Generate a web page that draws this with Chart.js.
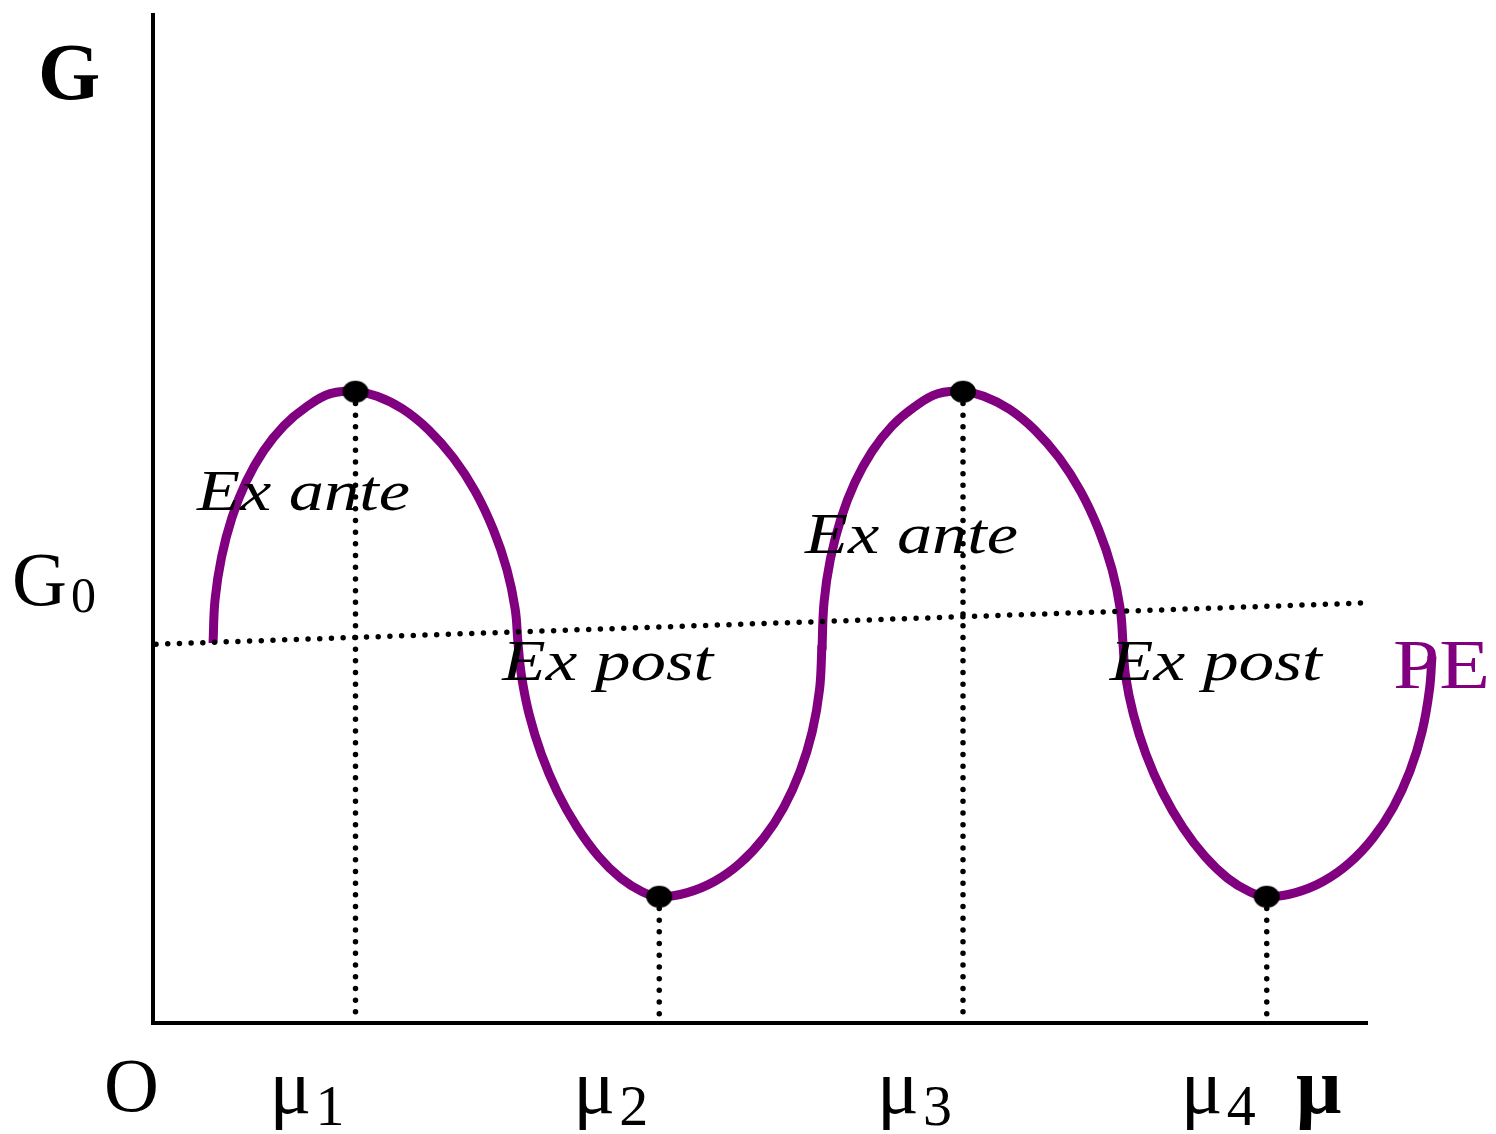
<!DOCTYPE html>
<html>
<head>
<meta charset="utf-8">
<script src="https://cdn.jsdelivr.net/npm/chart.js@4.4.1/dist/chart.umd.min.js"></script>
<style>
  html, body { margin: 0; padding: 0; background: #fff; }
  canvas { display: block; }
</style>
</head>
<body>
<canvas id="peChart" width="1496" height="1134"></canvas>
<script>
// PE curve: G against mu, with ex ante / ex post regions

// first stretch of the curve (up to the small break near mu ~ 6.6)
const curveX1 = [0.593, 0.613, 0.677, 0.780, 0.920, 1.093, 1.294, 1.515, 1.751, 2.0,
  2.213, 2.467, 2.723, 2.967, 3.182, 3.361, 3.495, 3.577, 3.605,
  3.640, 3.715, 3.836, 3.996, 4.189, 4.400, 4.621, 4.832, 5.0,
  5.278, 5.548, 5.802, 6.033, 6.231, 6.392, 6.511, 6.583, 6.607];
const curveY1 = [3.761, 4.193, 4.612, 5.005, 5.360, 5.666, 5.915, 6.100, 6.231, 6.25,
  6.206, 6.079, 5.872, 5.595, 5.264, 4.886, 4.491, 4.099, 3.761,
  3.433, 3.056, 2.661, 2.281, 1.938, 1.650, 1.432, 1.299, 1.25,
  1.291, 1.403, 1.585, 1.833, 2.138, 2.493, 2.885, 3.301, 3.741];

// second stretch, after the break
const curveX2 = [6.607, 6.628, 6.690, 6.793, 6.931, 7.101, 7.299, 7.517, 7.749, 8.0,
  8.205, 8.456, 8.709, 8.950, 9.162, 9.339, 9.472, 9.553, 9.580,
  9.606, 9.683, 9.807, 9.972, 10.170, 10.388, 10.615, 10.832, 11.0,
  11.286, 11.560, 11.817, 12.050, 12.251, 12.414, 12.534, 12.607, 12.632];
const curveY2 = [3.692, 4.169, 4.592, 4.990, 5.350, 5.659, 5.911, 6.098, 6.231, 6.25,
  6.206, 6.079, 5.872, 5.595, 5.264, 4.886, 4.491, 4.099, 3.761,
  3.433, 3.056, 2.661, 2.281, 1.938, 1.650, 1.432, 1.299, 1.25,
  1.291, 1.403, 1.585, 1.833, 2.138, 2.493, 2.885, 3.301, 3.633];

// peaks and troughs, each marked at mu1..mu4
const markerX = [2, 5, 8, 11];
const markerY = [6.25, 1.25, 6.25, 1.25];
const tickSubs = ["1", "2", "3", "4"];

// G0 reference line (slightly rising)
const g0X = [0.03, 12];
const g0Y = [3.75, 4.16];

const regionLabels = ["Ex ante", "Ex post", "Ex ante", "Ex post"];

const AXIS_END = 12; // the mu axis is drawn to here; the curve runs a bit past it
const PURPLE = "#800080";
const SERIF = "'Liberation Serif', 'Times New Roman', serif";

function pts(xs, ys) {
  return xs.map((x, i) => ({ x, y: ys[i] }));
}

// vertical drops from each marker to the mu axis
const dropData = [];
markerX.forEach((x, i) => {
  dropData.push({ x, y: markerY[i] }, { x, y: 0 }, { x, y: null });
});

// ellipse marker
const dotCanvas = document.createElement("canvas");
dotCanvas.width = 28;
dotCanvas.height = 24;
{
  const c = dotCanvas.getContext("2d");
  c.fillStyle = "#000";
  c.beginPath();
  c.ellipse(14, 12, 13, 11, 0, 0, Math.PI * 2);
  c.fill();
}

function drawText(ctx, str, x, y, font, color, width) {
  ctx.save();
  ctx.font = font;
  ctx.fillStyle = color;
  ctx.textBaseline = "alphabetic";
  ctx.textAlign = "left";
  ctx.translate(x, y);
  if (width) {
    const w = ctx.measureText(str).width;
    ctx.scale(width / w, 1);
  }
  ctx.fillText(str, 0, 0);
  ctx.restore();
}

const axesPlugin = {
  id: "axesAndLabels",
  beforeDatasetsDraw(chart) {
    const { ctx, scales } = chart;
    const x0 = scales.x.getPixelForValue(0);
    const y0 = scales.y.getPixelForValue(0);
    ctx.save();
    ctx.strokeStyle = "#000";
    ctx.lineWidth = 4;
    ctx.beginPath();
    ctx.moveTo(x0, scales.y.getPixelForValue(10));
    ctx.lineTo(x0, y0);
    ctx.lineTo(scales.x.getPixelForValue(AXIS_END), y0);
    ctx.stroke();
    ctx.restore();

    // axis labels
    drawText(ctx, "G", 38, 99, `bold 80px ${SERIF}`, "#000");
    drawText(ctx, "G", 12, 605, `76px ${SERIF}`, "#000");
    drawText(ctx, "0", 71, 612, `50px ${SERIF}`, "#000");
    drawText(ctx, "O", 104, 1111, `76px ${SERIF}`, "#000");
    markerX.forEach((v, i) => {
      const px = scales.x.getPixelForValue(v);
      drawText(ctx, "\u03bc", px - 86, 1113, `78px ${SERIF}`, "#000");
      drawText(ctx, tickSubs[i], px - 40, 1125, `58px ${SERIF}`, "#000");
    });
    drawText(ctx, "\u03bc", 1296, 1113, `bold 80px ${SERIF}`, "#000");
  },
  afterDatasetDraw(chart, args) {
    if (args.index !== 1) return;
    const { ctx, scales } = chart;
    // region labels, anchored in data units
    const spots = [
      [0.435, 5.08, 213],
      [3.45, 3.40, 211],
      [6.44, 4.65, 213],
      [9.45, 3.40, 212],
    ];
    regionLabels.forEach((t, i) => {
      const [x, y, w] = spots[i];
      drawText(ctx, t, scales.x.getPixelForValue(x), scales.y.getPixelForValue(y),
        `italic 57px ${SERIF}`, "#000", w);
    });
    drawText(ctx, "PE", 1393, 688, `70px ${SERIF}`, PURPLE, 97);
  },
};

const curveStyle = {
  showLine: true,
  borderColor: PURPLE,
  borderWidth: 9,
  borderCapStyle: "butt",
  borderJoinStyle: "round",
  tension: 0.4,
  pointRadius: 0,
  clip: false,
};

const dottedStyle = {
  showLine: true,
  borderColor: "#000",
  borderWidth: 5.5,
  borderDash: [0, 11.7],
  borderCapStyle: "round",
  pointRadius: 0,
  tension: 0,
  spanGaps: false,
};

new Chart(document.getElementById("peChart"), {
  type: "scatter",
  data: {
    datasets: [
      { ...curveStyle, label: "PE a", data: pts(curveX1, curveY1), order: 5 },
      { ...curveStyle, label: "PE b", data: pts(curveX2, curveY2), order: 4 },
      { ...dottedStyle, label: "G0", data: pts(g0X, g0Y), order: 3 },
      { ...dottedStyle, label: "drops", data: dropData, order: 2 },
      {
        label: "extrema",
        data: pts(markerX, markerY),
        pointStyle: dotCanvas,
        pointRadius: 12,
        showLine: false,
        order: 1,
      },
    ],
  },
  options: {
    responsive: false,
    devicePixelRatio: 1,
    animation: false,
    // x runs 0..13 so that the tail of the curve past the axis end is kept
    layout: { padding: { left: 153, right: 26.75, top: 10, bottom: 111 } },
    elements: { line: { capBezierPoints: false } },
    plugins: {
      legend: { display: false },
      tooltip: { enabled: false },
    },
    scales: {
      x: { type: "linear", min: 0, max: 13, display: false },
      y: { type: "linear", min: 0, max: 10, display: false },
    },
  },
  plugins: [axesPlugin],
});
</script>
</body>
</html>
